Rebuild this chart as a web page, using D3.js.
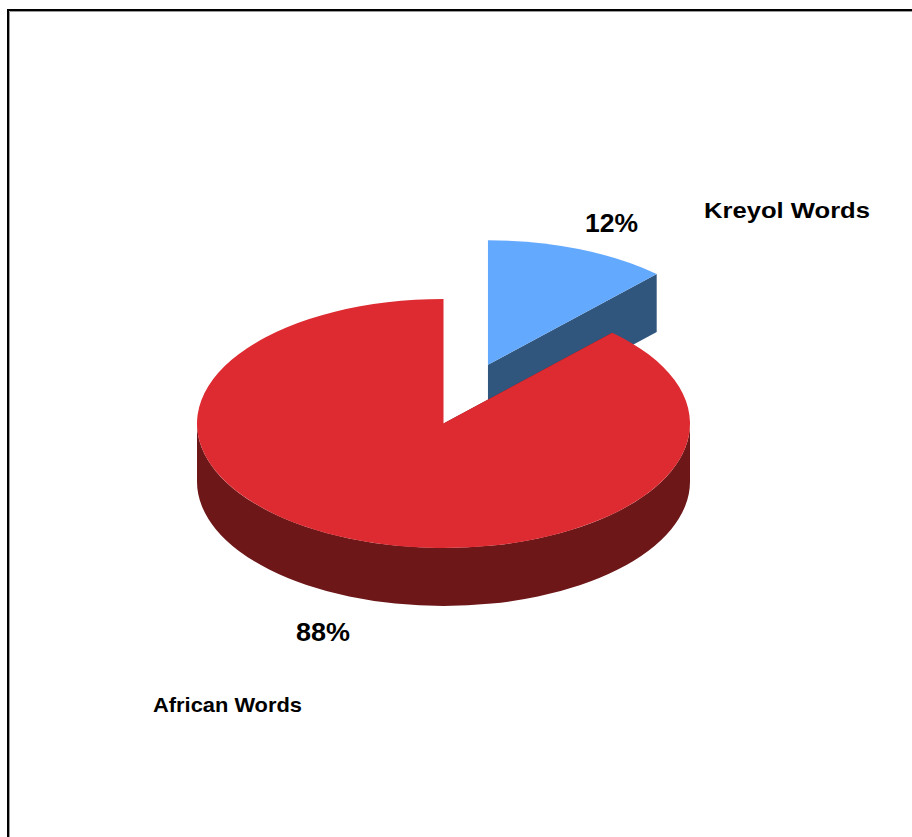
<!DOCTYPE html>
<html>
<head>
<meta charset="utf-8">
<script src="https://cdn.jsdelivr.net/npm/d3@7"></script>
<style>
  html, body { margin: 0; padding: 0; background: #ffffff; }
  svg { display: block; }
  text { font-family: "Liberation Sans", Arial, Helvetica, sans-serif; font-weight: bold; fill: #000; }
</style>
</head>
<body>
<svg id="chart" width="912" height="837"></svg>
<script>
// Word origin shares
const categories = ["Kreyol Words", "African Words"];
const values = [12, 88];
const percentLabels = ["12%", "88%"];
const topColors = ["#63a9fe", "#dd2b31"];
const sideColors = ["#31567e", "#6d1719"];
const explode = [0.49, 0];

const svg = d3.select("#chart");

// Frame
svg.append("path")
  .attr("d", "M8,840 L8,10 L915,10")
  .attr("fill", "none").attr("stroke", "#000").attr("stroke-width", 2);
svg.append("path")
  .attr("d", "M9.5,840 L9.5,11.5 L915,11.5")
  .attr("fill", "none").attr("stroke", "#9a9a9a").attr("stroke-width", 1);

// 3D pie geometry: top face is an ellipse, side walls extruded downward
const cx = 443.5, cy = 423.5, rx = 246.5, ry = 124.5, depth = 58;

const pie = d3.pie().sort(null).value(d => d)(values);

// angle measured clockwise from 12 o'clock
const pt = (ox, oy, a, dz = 0) => [ox + rx * Math.sin(a), oy - ry * Math.cos(a) + dz];

function topPath(ox, oy, a0, a1) {
  const p0 = pt(ox, oy, a0), p1 = pt(ox, oy, a1);
  const large = (a1 - a0) > Math.PI ? 1 : 0;
  return `M${ox},${oy} L${p0[0]},${p0[1]} A${rx},${ry} 0 ${large} 1 ${p1[0]},${p1[1]} Z`;
}

function rimPath(ox, oy, a0, a1) {
  const s = Math.max(a0, Math.PI / 2), e = Math.min(a1, 3 * Math.PI / 2);
  if (e <= s) return null;
  const p0 = pt(ox, oy, s), p1 = pt(ox, oy, e);
  const q1 = pt(ox, oy, e, depth), q0 = pt(ox, oy, s, depth);
  const large = (e - s) > Math.PI ? 1 : 0;
  return `M${p0[0]},${p0[1]} A${rx},${ry} 0 ${large} 1 ${p1[0]},${p1[1]} ` +
         `L${q1[0]},${q1[1]} A${rx},${ry} 0 ${large} 0 ${q0[0]},${q0[1]} Z`;
}

function edgePath(ox, oy, a) {
  const p = pt(ox, oy, a), q = pt(ox, oy, a, depth);
  return `M${ox},${oy} L${p[0]},${p[1]} L${q[0]},${q[1]} L${ox},${oy + depth} Z`;
}

const g = svg.append("g");

pie.forEach((d, i) => {
  const mid = (d.startAngle + d.endAngle) / 2;
  const ox = cx + explode[i] * rx * Math.sin(mid);
  const oy = cy - explode[i] * ry * Math.cos(mid) - (explode[i] ? 2 : 0);
  const sg = g.append("g").attr("class", "slice");
  // cut walls, then outer wall, then the top face
  sg.append("path").attr("d", edgePath(ox, oy, d.startAngle)).attr("fill", sideColors[i]);
  sg.append("path").attr("d", edgePath(ox, oy, d.endAngle)).attr("fill", sideColors[i]);
  const rim = rimPath(ox, oy, d.startAngle, d.endAngle);
  if (rim) sg.append("path").attr("d", rim).attr("fill", sideColors[i]);
  sg.append("path").attr("d", topPath(ox, oy, d.startAngle, d.endAngle)).attr("fill", topColors[i]);
});

// Labels
const labels = [
  { text: percentLabels[0], x: 585, y: 232, size: 26, len: 53 },
  { text: categories[0], x: 704, y: 218, size: 22.5, len: 166 },
  { text: percentLabels[1], x: 296, y: 641, size: 26, len: 54 },
  { text: categories[1], x: 153, y: 712, size: 20.5, len: 149 }
];
svg.selectAll("text.lbl").data(labels).enter().append("text")
  .attr("class", "lbl")
  .attr("x", d => d.x).attr("y", d => d.y)
  .attr("font-size", d => d.size)
  .attr("textLength", d => d.len)
  .attr("lengthAdjust", "spacingAndGlyphs")
  .text(d => d.text);
</script>
</body>
</html>
